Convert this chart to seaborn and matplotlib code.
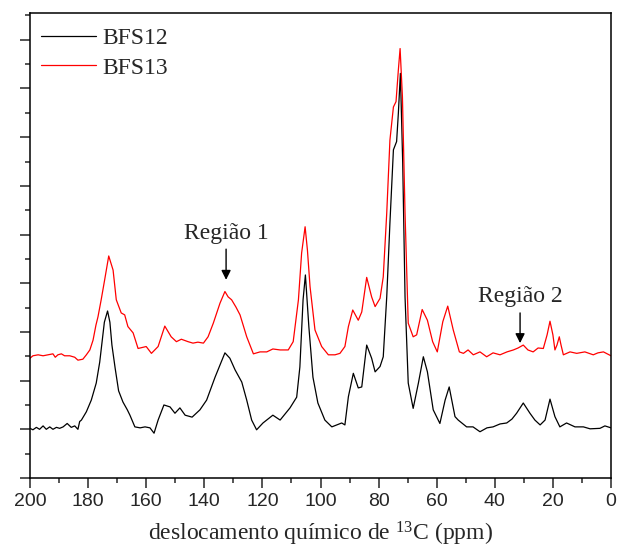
import matplotlib
matplotlib.use("Agg")
import matplotlib.pyplot as plt
from matplotlib.ticker import MultipleLocator, NullFormatter
import seaborn as sns
import pandas as pd

# ---- data (ppm, intensity in arbitrary units) ----
bfs12_ppm = [200.0, 199.0, 197.8, 196.7, 195.5, 194.4, 193.2, 192.1, 190.9, 189.8,
             188.6, 187.2, 185.8, 184.6, 183.5, 182.9, 182.3, 180.6, 178.9, 177.2,
             176.0, 175.2, 174.4, 173.3, 172.5, 171.8, 170.7, 169.5, 168.0, 166.5,
             165.6, 163.9,
             162.1, 160.4, 158.7, 157.3, 155.9, 153.9, 151.8, 150.1, 148.4,
             146.6, 144.2, 141.5, 139.2, 136.3, 132.9, 131.2, 129.4, 127.1, 125.4,
             123.7, 122.0, 119.8, 116.4, 113.9, 110.5, 108.2, 107.1, 106.0, 105.2,
             104.0, 102.6, 100.9, 98.5, 96.1, 92.7, 91.6, 90.4, 88.7, 87.0,
             85.8, 84.1, 82.4, 81.2, 79.5, 78.4, 77.2, 76.1, 74.9, 73.8,
             73.2, 72.5, 71.7, 70.9, 69.8, 68.1, 66.3, 64.6, 63.2, 61.2,
             58.9, 57.1, 55.7, 53.7, 52.6, 49.7, 47.5, 45.1, 42.7, 40.6,
             38.2, 35.9, 34.1, 32.5, 30.2, 27.9, 26.2, 24.4, 22.7, 21.0,
             19.3, 17.6, 15.3, 12.4, 9.5, 7.2, 3.8, 2.1, 0.0]
bfs12_int = [1.02, 0.99, 1.04, 1.00, 1.07, 1.00, 1.05, 1.00, 1.04, 1.02,
             1.05, 1.12, 1.04, 1.07, 1.00, 1.16, 1.19, 1.36, 1.60, 1.95,
             2.38, 2.79, 3.20, 3.43, 3.20, 2.73, 2.26, 1.79, 1.56, 1.40,
             1.29, 1.05,
             1.03, 1.05, 1.03, 0.92, 1.19, 1.50, 1.46, 1.33, 1.44,
             1.29, 1.25, 1.40, 1.60, 2.07, 2.57, 2.46, 2.22, 1.97, 1.60,
             1.19, 0.99, 1.13, 1.29, 1.19, 1.44, 1.66, 2.28, 3.66, 4.17,
             3.10, 2.07, 1.54, 1.19, 1.05, 1.13, 1.09, 1.67, 2.15, 1.85,
             1.87, 2.73, 2.46, 2.18, 2.29, 2.49, 3.72, 5.24, 6.74, 6.91,
             7.49, 8.31, 6.47, 3.72, 1.95, 1.43, 1.95, 2.49, 2.18, 1.40,
             1.12, 1.60, 1.87, 1.26, 1.19, 1.05, 1.05, 0.95, 1.03, 1.05,
             1.11, 1.13, 1.21, 1.33, 1.54, 1.33, 1.19, 1.09, 1.19, 1.62,
             1.26, 1.05, 1.13, 1.05, 1.05, 1.01, 1.02, 1.07, 1.03]

bfs13_ppm = [200.0, 199.0, 197.2, 195.5, 193.8, 192.1, 191.3, 190.4, 189.2, 188.1,
             186.3, 184.6, 183.5, 181.8, 180.6, 179.4, 178.3,
             177.3, 176.6, 175.5, 174.3, 172.9, 171.4, 170.3,
             168.6, 167.4, 166.3, 164.5, 162.8, 160.0, 158.2, 155.9, 153.6, 151.4,
             149.6, 147.9, 145.6, 143.9, 142.2, 140.3, 138.7, 136.9, 134.6, 132.9,
             131.8, 130.6, 129.1, 127.7, 125.4, 123.1, 120.8, 118.5, 116.4, 113.9,
             111.1, 109.4, 107.6, 106.5, 105.3, 104.5, 103.6, 101.9, 99.6, 97.3,
             95.0, 93.3, 91.6, 90.4, 88.9, 87.0, 85.8, 84.1, 82.4, 81.2,
             79.5, 78.4, 77.2, 76.1, 74.9, 74.0, 73.2, 72.6, 71.8, 70.9,
             69.8, 68.1, 66.9, 65.0, 63.2, 61.4, 59.8, 57.9, 56.2, 54.3,
             52.2, 50.8, 49.2, 47.4, 45.1, 42.8, 40.6, 38.2, 35.8, 33.6,
             32.0, 30.2, 28.6, 26.8, 25.1, 23.3, 22.0, 21.0, 20.0, 19.3,
             18.6, 17.8, 17.2, 16.4, 14.1, 11.8, 9.0, 6.1, 4.5, 2.6, 0.0]
bfs13_int = [2.46, 2.51, 2.53, 2.51, 2.53, 2.55, 2.48, 2.53, 2.55, 2.51,
             2.51, 2.48, 2.42, 2.44, 2.53, 2.63, 2.83,
             3.14, 3.31, 3.66, 4.07, 4.56, 4.27, 3.66,
             3.39, 3.35, 3.11, 2.98, 2.66, 2.70, 2.56, 2.70, 3.12, 2.90,
             2.80, 2.85, 2.80, 2.77, 2.79, 2.77, 2.90, 3.18, 3.59, 3.83,
             3.72, 3.66, 3.51, 3.35, 2.90, 2.55, 2.59, 2.59, 2.65, 2.63,
             2.63, 2.80, 3.66, 4.62, 5.16, 4.68, 3.93, 3.04, 2.70, 2.53,
             2.53, 2.56, 2.70, 3.11, 3.45, 3.24, 3.41, 4.12, 3.72, 3.52,
             3.69, 4.13, 5.44, 6.94, 7.62, 7.73, 8.38, 8.82, 7.83, 5.44,
             3.18, 2.90, 2.94, 3.46, 3.24, 2.80, 2.59, 3.21, 3.53, 3.04,
             2.59, 2.56, 2.63, 2.53, 2.59, 2.49, 2.57, 2.53, 2.59, 2.63,
             2.67, 2.73, 2.63, 2.59, 2.67, 2.66, 2.94, 3.22, 2.94, 2.63,
             2.73, 2.90, 2.73, 2.53, 2.59, 2.56, 2.59, 2.53, 2.57, 2.59, 2.51]

series_names = ["BFS12", "BFS13"]
series_colors = ["black", "red"]

annot_texts = ["Região 1", "Região 2"]
annot_ppm = [132.5, 31.3]
annot_text_y = [5.02, 3.72]
annot_arrow_start = [4.70, 3.39]
annot_arrow_end = [4.07, 2.77]

x_label = "deslocamento químico de $^{\\mathrm{13}}$C (ppm)"

assert len(bfs12_ppm) == len(bfs12_int)
assert len(bfs13_ppm) == len(bfs13_int)

# ---- build table ----
df = pd.concat([
    pd.DataFrame({"ppm": bfs12_ppm, "I": bfs12_int, "amostra": series_names[0]}),
    pd.DataFrame({"ppm": bfs13_ppm, "I": bfs13_int, "amostra": series_names[1]}),
], ignore_index=True)

sns.set_style("ticks")
plt.rcParams["font.family"] = ["Liberation Serif", "DejaVu Serif"]
plt.rcParams["mathtext.fontset"] = "custom"
plt.rcParams["mathtext.rm"] = "Liberation Serif"
plt.rcParams["mathtext.it"] = "Liberation Serif:italic"

fig = plt.figure(figsize=(6.18, 5.5), dpi=100)
ax = fig.add_axes([30 / 618, 1 - 478 / 550, (611 - 30) / 618, (478 - 13) / 550])

sns.lineplot(data=df, x="ppm", y="I", hue="amostra", sort=False, estimator=None,
             palette=dict(zip(series_names, series_colors)), linewidth=0.9, ax=ax)

ax.set_xlim(200, 0)
ax.set_ylim(0, 9.55)

for sp in ax.spines.values():
    sp.set_visible(True)
    sp.set_linewidth(1.1)
    sp.set_color("black")

ax.xaxis.set_major_locator(MultipleLocator(20))
ax.xaxis.set_minor_locator(MultipleLocator(10))
ax.yaxis.set_major_locator(MultipleLocator(1))
ax.yaxis.set_minor_locator(MultipleLocator(0.5))
ax.yaxis.set_major_formatter(NullFormatter())
ax.tick_params(axis="both", which="major", direction="out", length=7, width=1.1,
               top=False, right=False)
ax.tick_params(axis="both", which="minor", direction="out", length=3.8, width=1.1,
               top=False, right=False)
ax.tick_params(axis="x", which="major", labelsize=14, pad=4)
for lab in ax.get_xticklabels():
    lab.set_fontfamily(["Liberation Sans", "DejaVu Sans"])

ax.set_xlabel(x_label, fontsize=17, labelpad=7)
ax.set_ylabel("")

for t, xp, ty, ys, ye in zip(annot_texts, annot_ppm, annot_text_y,
                             annot_arrow_start, annot_arrow_end):
    ax.text(xp, ty, t, ha="center", va="center", fontsize=17)
    ax.annotate("", xy=(xp, ye), xytext=(xp, ys),
                arrowprops=dict(arrowstyle="-|>", color="black", lw=1.0,
                                mutation_scale=14, shrinkA=0, shrinkB=0))

leg = ax.legend(loc="upper left", bbox_to_anchor=(0.0064, 0.9834), frameon=False,
                fontsize=17, handlelength=2.35, handletextpad=0.25,
                labelspacing=0.33, borderaxespad=0.2, borderpad=0.1, title=None)
for h in leg.get_lines():
    h.set_linewidth(0.9)

fig.savefig("out.png", dpi=100)
